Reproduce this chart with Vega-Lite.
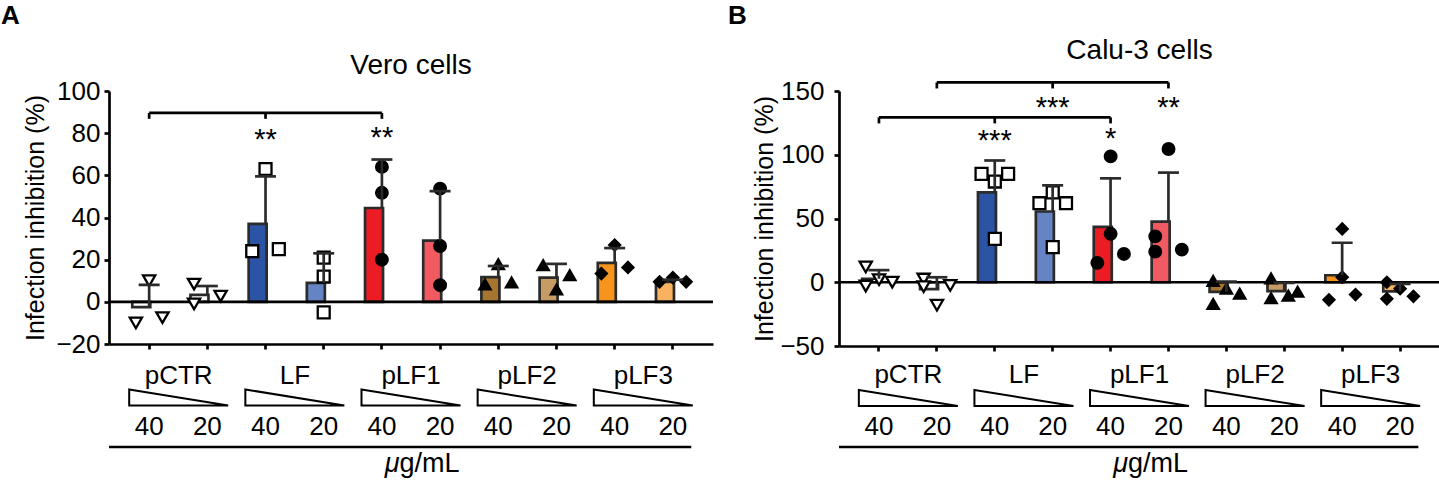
{
  "$schema": "https://vega.github.io/schema/vega-lite/v6.json",
  "background": "white",
  "padding": {"top": 2, "left": 0, "right": 0, "bottom": 0},
  "spacing": 12,
  "config": {
    "view": {"stroke": null},
    "font": "Liberation Sans",
    "title": {"font": "Liberation Sans", "color": "black"},
    "axis": {
      "domainColor": "black", "domainWidth": 2.7, "tickColor": "black", "tickWidth": 2.7, "tickSize": 5,
      "labelColor": "black", "labelFont": "Liberation Sans", "labelFontSize": 26,
      "titleFont": "Liberation Sans", "titleFontSize": 25, "titleFontWeight": "normal", "titleColor": "black", "grid": false
    },
    "text": {"font": "Liberation Sans", "color": "black"}
  },
  "datasets": {
    "barsA": [
      {"cond": "pCTR 40", "mean": -2.5, "upper": 8},
      {"cond": "pCTR 20", "mean": 3.3, "upper": 7.5},
      {"cond": "LF 40", "mean": 37, "upper": 59.5},
      {"cond": "LF 20", "mean": 9, "upper": 23},
      {"cond": "pLF1 40", "mean": 44.5, "upper": 67.5},
      {"cond": "pLF1 20", "mean": 29, "upper": 52.5},
      {"cond": "pLF2 40", "mean": 11.7, "upper": 17},
      {"cond": "pLF2 20", "mean": 11.5, "upper": 18},
      {"cond": "pLF3 40", "mean": 18.5, "upper": 25.5},
      {"cond": "pLF3 20", "mean": 9.5, "upper": 10.5}
    ],
    "ptsA": [
      {"cond": "pCTR 40", "group": "pCTR", "val": -10, "spread": -1},
      {"cond": "pCTR 40", "group": "pCTR", "val": 10, "spread": 0},
      {"cond": "pCTR 40", "group": "pCTR", "val": -7.5, "spread": 1},
      {"cond": "pCTR 20", "group": "pCTR", "val": 8.4, "spread": -1},
      {"cond": "pCTR 20", "group": "pCTR", "val": -1, "spread": -1},
      {"cond": "pCTR 20", "group": "pCTR", "val": 2.7, "spread": 1},
      {"cond": "LF 40", "group": "LF", "val": 63, "spread": 0},
      {"cond": "LF 40", "group": "LF", "val": 24, "spread": -1},
      {"cond": "LF 40", "group": "LF", "val": 25, "spread": 1},
      {"cond": "LF 20", "group": "LF", "val": 21, "spread": 0},
      {"cond": "LF 20", "group": "LF", "val": 12, "spread": 0},
      {"cond": "LF 20", "group": "LF", "val": -5, "spread": 0},
      {"cond": "pLF1 40", "group": "pLF1", "val": 64, "spread": 0},
      {"cond": "pLF1 40", "group": "pLF1", "val": 51.7, "spread": 0},
      {"cond": "pLF1 40", "group": "pLF1", "val": 20, "spread": 0},
      {"cond": "pLF1 20", "group": "pLF1", "val": 53.7, "spread": 0},
      {"cond": "pLF1 20", "group": "pLF1", "val": 26.5, "spread": 0},
      {"cond": "pLF1 20", "group": "pLF1", "val": 7.9, "spread": 0},
      {"cond": "pLF2 40", "group": "pLF2", "val": 17.9, "spread": 0},
      {"cond": "pLF2 40", "group": "pLF2", "val": 8.2, "spread": -1},
      {"cond": "pLF2 40", "group": "pLF2", "val": 9.2, "spread": 1},
      {"cond": "pLF2 20", "group": "pLF2", "val": 17.4, "spread": -1},
      {"cond": "pLF2 20", "group": "pLF2", "val": 12.6, "spread": 1},
      {"cond": "pLF2 20", "group": "pLF2", "val": 5.9, "spread": 0},
      {"cond": "pLF3 40", "group": "pLF3", "val": 26.9, "spread": 0},
      {"cond": "pLF3 40", "group": "pLF3", "val": 13.4, "spread": -1},
      {"cond": "pLF3 40", "group": "pLF3", "val": 16.3, "spread": 1},
      {"cond": "pLF3 20", "group": "pLF3", "val": 9.5, "spread": -1},
      {"cond": "pLF3 20", "group": "pLF3", "val": 11.5, "spread": 0},
      {"cond": "pLF3 20", "group": "pLF3", "val": 9.5, "spread": 1}
    ],
    "barsB": [
      {"cond": "pCTR 40", "mean": 2.75, "upper": 9.5},
      {"cond": "pCTR 20", "mean": -5.4, "upper": 3.9},
      {"cond": "LF 40", "mean": 70.5, "upper": 95.5},
      {"cond": "LF 20", "mean": 55.5, "upper": 76},
      {"cond": "pLF1 40", "mean": 43.5, "upper": 81.5},
      {"cond": "pLF1 20", "mean": 47.5, "upper": 86},
      {"cond": "pLF2 40", "mean": -7.5, "upper": 0.5},
      {"cond": "pLF2 20", "mean": -7, "upper": -0.5},
      {"cond": "pLF3 40", "mean": 5.5, "upper": 31},
      {"cond": "pLF3 20", "mean": -7.2, "upper": -1.3}
    ],
    "ptsB": [
      {"cond": "pCTR 40", "group": "pCTR", "val": 12, "spread": -1},
      {"cond": "pCTR 40", "group": "pCTR", "val": -3, "spread": -1},
      {"cond": "pCTR 40", "group": "pCTR", "val": 2, "spread": 0},
      {"cond": "pCTR 40", "group": "pCTR", "val": 0, "spread": 1},
      {"cond": "pCTR 20", "group": "pCTR", "val": 2.5, "spread": -1},
      {"cond": "pCTR 20", "group": "pCTR", "val": -3.5, "spread": -1},
      {"cond": "pCTR 20", "group": "pCTR", "val": -18, "spread": 0},
      {"cond": "pCTR 20", "group": "pCTR", "val": -2.5, "spread": 1},
      {"cond": "LF 40", "group": "LF", "val": 85, "spread": -1},
      {"cond": "LF 40", "group": "LF", "val": 85, "spread": 1},
      {"cond": "LF 40", "group": "LF", "val": 79, "spread": 0},
      {"cond": "LF 40", "group": "LF", "val": 34, "spread": 0},
      {"cond": "LF 20", "group": "LF", "val": 62, "spread": -1},
      {"cond": "LF 20", "group": "LF", "val": 62, "spread": 1},
      {"cond": "LF 20", "group": "LF", "val": 70.5, "spread": 0},
      {"cond": "LF 20", "group": "LF", "val": 27.5, "spread": 0},
      {"cond": "pLF1 40", "group": "pLF1", "val": 98.7, "spread": 0},
      {"cond": "pLF1 40", "group": "pLF1", "val": 38, "spread": 0},
      {"cond": "pLF1 40", "group": "pLF1", "val": 15.2, "spread": -1},
      {"cond": "pLF1 40", "group": "pLF1", "val": 22.2, "spread": 1},
      {"cond": "pLF1 20", "group": "pLF1", "val": 104.5, "spread": 0},
      {"cond": "pLF1 20", "group": "pLF1", "val": 36, "spread": -1},
      {"cond": "pLF1 20", "group": "pLF1", "val": 24, "spread": -1},
      {"cond": "pLF1 20", "group": "pLF1", "val": 25.6, "spread": 1},
      {"cond": "pLF2 40", "group": "pLF2", "val": 1, "spread": -1},
      {"cond": "pLF2 40", "group": "pLF2", "val": -17, "spread": -1},
      {"cond": "pLF2 40", "group": "pLF2", "val": -5, "spread": 0},
      {"cond": "pLF2 40", "group": "pLF2", "val": -9, "spread": 1},
      {"cond": "pLF2 20", "group": "pLF2", "val": 3, "spread": -1},
      {"cond": "pLF2 20", "group": "pLF2", "val": -12.5, "spread": -1},
      {"cond": "pLF2 20", "group": "pLF2", "val": -10.5, "spread": 0.3},
      {"cond": "pLF2 20", "group": "pLF2", "val": -7.5, "spread": 1},
      {"cond": "pLF3 40", "group": "pLF3", "val": 41.8, "spread": 0},
      {"cond": "pLF3 40", "group": "pLF3", "val": 4, "spread": 0},
      {"cond": "pLF3 40", "group": "pLF3", "val": -13.8, "spread": -1},
      {"cond": "pLF3 40", "group": "pLF3", "val": -9.7, "spread": 1},
      {"cond": "pLF3 20", "group": "pLF3", "val": 0, "spread": -1},
      {"cond": "pLF3 20", "group": "pLF3", "val": -5, "spread": 0},
      {"cond": "pLF3 20", "group": "pLF3", "val": -13, "spread": -1},
      {"cond": "pLF3 20", "group": "pLF3", "val": -11, "spread": 1}
    ],
    "sigA": [
      {"cond": "LF 40", "label": "**", "level": 80},
      {"cond": "pLF1 40", "label": "**", "level": 81}
    ],
    "sigB": [
      {"cond": "LF 40", "label": "***", "level": 116},
      {"cond": "pLF1 40", "label": "*", "level": 118},
      {"cond": "LF 20", "label": "***", "level": 141.8},
      {"cond": "pLF1 20", "label": "**", "level": 141.8}
    ],
    "brkA": [
      {"from": "pCTR 40", "to": "pLF1 40", "level": 89.6}
    ],
    "brkTicksA": [
      {"cond": "pCTR 40", "level": 89.6, "foot": 86.8},
      {"cond": "LF 40", "level": 89.6, "foot": 86.8},
      {"cond": "pLF1 40", "level": 89.6, "foot": 86.8}
    ],
    "brkB": [
      {"from": "pCTR 40", "to": "pLF1 40", "level": 129.3},
      {"from": "pCTR 20", "to": "pLF1 20", "level": 156.7}
    ],
    "brkTicksB": [
      {"cond": "pCTR 40", "level": 129.3, "foot": 124.6},
      {"cond": "LF 40", "level": 129.3, "foot": 124.6},
      {"cond": "pLF1 40", "level": 129.3, "foot": 124.6},
      {"cond": "pCTR 20", "level": 156.7, "foot": 152},
      {"cond": "LF 20", "level": 156.7, "foot": 152},
      {"cond": "pLF1 20", "level": 156.7, "foot": 152}
    ],
    "doses": [
      {"cond": "pCTR 40", "dose": "40"}, {"cond": "pCTR 20", "dose": "20"},
      {"cond": "LF 40", "dose": "40"}, {"cond": "LF 20", "dose": "20"},
      {"cond": "pLF1 40", "dose": "40"}, {"cond": "pLF1 20", "dose": "20"},
      {"cond": "pLF2 40", "dose": "40"}, {"cond": "pLF2 20", "dose": "20"},
      {"cond": "pLF3 40", "dose": "40"}, {"cond": "pLF3 20", "dose": "20"}
    ],
    "groups": [
      {"group": "pCTR"}, {"group": "LF"}, {"group": "pLF1"}, {"group": "pLF2"}, {"group": "pLF3"}
    ],
    "one": [{"k": 1}]
  },
  "hconcat": [
    {
      "title": {"text": "A", "anchor": "start", "fontSize": 26, "fontWeight": "bold", "dx": -23, "offset": 23.5},
      "spacing": 0,
      "vconcat": [
        {
          "width": 604, "height": 253,
          "title": {"text": "Vero cells", "fontSize": 28, "fontWeight": "normal", "anchor": "middle", "frame": "group", "offset": -2},
          "resolve": {"scale": {"color": "independent"}},
          "layer": [
            {
              "data": {"name": "barsA"},
              "mark": {"type": "bar", "stroke": "#2b2b2b", "strokeWidth": 2.7},
              "encoding": {
                "x": {"field": "cond", "type": "nominal", "title": null, "scale": {"type": "band", "domain": ["pCTR 40","pCTR 20","LF 40","LF 20","pLF1 40","pLF1 20","pLF2 40","pLF2 20","pLF3 40","pLF3 20"], "paddingInner": 0.42, "paddingOuter": 0.4}, "axis": {"labels": false, "title": null, "ticks": true, "domain": true}},
                "y": {"field": "mean", "type": "quantitative", "title": "Infection inhibition (%)", "scale": {"domain": [-20, 100], "nice": false}, "axis": {"values": [-20, 0, 20, 40, 60, 80, 100], "labelPadding": 4, "titlePadding": 7}},
                "fill": {"field": "cond", "type": "nominal", "legend": null, "scale": {"domain": ["pCTR 40","pCTR 20","LF 40","LF 20","pLF1 40","pLF1 20","pLF2 40","pLF2 20","pLF3 40","pLF3 20"], "range": ["#ffffff","#ffffff","#2c54a4","#6484c4","#ec1c24","#f15a60","#a6752f","#c69c64","#f7941e","#f9b25f"]}}
              }
            },
            {
              "data": {"name": "one"},
              "mark": {"type": "rule", "color": "black", "strokeWidth": 2.7},
              "encoding": {"y": {"datum": 0, "type": "quantitative", "title": "Infection inhibition (%)"}}
            },
            {
              "data": {"name": "ptsA"},
              "mark": {"type": "point", "filled": true, "stroke": "black", "strokeWidth": 2.3, "opacity": 1},
              "encoding": {
                "x": {"field": "cond", "type": "nominal", "title": null},
                "xOffset": {"field": "spread", "type": "quantitative", "scale": {"domain": [-1.27, 1.27], "nice": false, "zero": false}},
                "y": {"field": "val", "type": "quantitative", "title": "Infection inhibition (%)"},
                "shape": {"field": "group", "type": "nominal", "legend": null, "scale": {"domain": ["pCTR","LF","pLF1","pLF2","pLF3"], "range": ["triangle-down","square","circle","triangle-up","diamond"]}},
                "color": {"field": "group", "type": "nominal", "legend": null, "scale": {"domain": ["pCTR","LF","pLF1","pLF2","pLF3"], "range": ["#ffffff","#ffffff","#000000","#000000","#000000"]}},
                "size": {"field": "group", "type": "nominal", "legend": null, "scale": {"domain": ["pCTR","LF","pLF1","pLF2","pLF3"], "range": [150, 120, 100, 120, 95]}}
              }
            },
            {
              "data": {"name": "barsA"},
              "mark": {"type": "rule", "color": "#2b2b2b", "strokeWidth": 2.7},
              "encoding": {
                "x": {"field": "cond", "type": "nominal", "title": null},
                "y": {"field": "mean", "type": "quantitative", "title": "Infection inhibition (%)"},
                "y2": {"field": "upper"}
              }
            },
            {
              "data": {"name": "barsA"},
              "mark": {"type": "tick", "color": "#2b2b2b", "size": 21, "thickness": 2.7, "opacity": 1},
              "encoding": {
                "x": {"field": "cond", "type": "nominal", "title": null},
                "y": {"field": "upper", "type": "quantitative", "title": "Infection inhibition (%)"}
              }
            },
            {
              "data": {"name": "brkA"},
              "mark": {"type": "rule", "color": "black", "strokeWidth": 2.7},
              "encoding": {
                "x": {"field": "from", "type": "nominal", "title": null},
                "x2": {"field": "to"},
                "y": {"field": "level", "type": "quantitative", "title": "Infection inhibition (%)"}
              }
            },
            {
              "data": {"name": "brkTicksA"},
              "mark": {"type": "rule", "color": "black", "strokeWidth": 2.7},
              "encoding": {
                "x": {"field": "cond", "type": "nominal", "title": null},
                "y": {"field": "level", "type": "quantitative", "title": "Infection inhibition (%)"},
                "y2": {"field": "foot"}
              }
            },
            {
              "data": {"name": "sigA"},
              "mark": {"type": "text", "fontSize": 29, "baseline": "alphabetic", "dy": 16},
              "encoding": {
                "x": {"field": "cond", "type": "nominal", "title": null},
                "y": {"field": "level", "type": "quantitative", "title": "Infection inhibition (%)"},
                "text": {"field": "label"}
              }
            }
          ]
        },
        {
          "width": 604, "height": 122,
          "resolve": {"scale": {"x": "independent"}},
          "layer": [
            {
              "data": {"name": "doses"},
              "mark": {"type": "text", "fontSize": 26, "baseline": "alphabetic"},
              "encoding": {
                "x": {"field": "cond", "type": "nominal", "axis": null, "scale": {"type": "band", "domain": ["pCTR 40","pCTR 20","LF 40","LF 20","pLF1 40","pLF1 20","pLF2 40","pLF2 20","pLF3 40","pLF3 20"], "paddingInner": 0.42, "paddingOuter": 0.4}},
                "y": {"datum": 78, "type": "quantitative", "axis": null, "scale": {"domain": [0, 122], "reverse": true, "nice": false, "zero": false}},
                "text": {"field": "dose"}
              }
            },
            {
              "data": {"name": "groups"},
              "mark": {"type": "text", "fontSize": 26, "baseline": "alphabetic"},
              "encoding": {
                "x": {"field": "group", "type": "nominal", "axis": null, "scale": {"type": "band", "domain": ["pCTR","LF","pLF1","pLF2","pLF3"], "paddingInner": 0, "paddingOuter": 0.1}},
                "y": {"datum": 26.5, "type": "quantitative", "axis": null},
                "text": {"field": "group"}
              }
            },
            {
              "data": {"name": "groups"},
              "mark": {"type": "point", "shape": "M -1 -0.162 L 1 0.162 L -1 0.162 Z", "size": 9801, "filled": true, "fill": "white", "stroke": "black", "strokeWidth": 2, "opacity": 1},
              "encoding": {
                "x": {"field": "group", "type": "nominal", "axis": null, "scale": {"type": "band", "domain": ["pCTR","LF","pLF1","pLF2","pLF3"], "paddingInner": 0, "paddingOuter": 0.1}},
                "y": {"datum": 40.5, "type": "quantitative", "axis": null}
              }
            },
            {
              "data": {"name": "one"},
              "mark": {"type": "rule", "color": "black", "strokeWidth": 2.7},
              "encoding": {
                "x": {"datum": 0, "type": "quantitative", "axis": null, "scale": {"domain": [0, 1], "nice": false, "zero": false}},
                "x2": {"datum": 0.964},
                "y": {"datum": 90, "type": "quantitative", "axis": null}
              }
            },
            {
              "data": {"name": "one"},
              "mark": {"type": "text", "text": "μ", "fontSize": 27, "fontStyle": "italic", "align": "right", "baseline": "alphabetic"},
              "encoding": {
                "x": {"datum": 0.481, "type": "quantitative", "axis": null, "scale": {"domain": [0, 1], "nice": false, "zero": false}},
                "y": {"datum": 114.5, "type": "quantitative", "axis": null}
              }
            },
            {
              "data": {"name": "one"},
              "mark": {"type": "text", "text": "g/mL", "fontSize": 27, "align": "left", "baseline": "alphabetic"},
              "encoding": {
                "x": {"datum": 0.481, "type": "quantitative", "axis": null, "scale": {"domain": [0, 1], "nice": false, "zero": false}},
                "y": {"datum": 114.5, "type": "quantitative", "axis": null}
              }
            }
          ]
        }
      ]
    },
    {
      "title": {"text": "B", "anchor": "start", "fontSize": 26, "fontWeight": "bold", "dx": -25, "offset": 8},
      "spacing": 0,
      "vconcat": [
        {
          "width": 601, "height": 255,
          "title": {"text": "Calu-3 cells", "fontSize": 28, "fontWeight": "normal", "anchor": "middle", "frame": "group", "offset": 13.5},
          "resolve": {"scale": {"color": "independent"}},
          "layer": [
            {
              "data": {"name": "barsB"},
              "mark": {"type": "bar", "stroke": "#2b2b2b", "strokeWidth": 2.7},
              "encoding": {
                "x": {"field": "cond", "type": "nominal", "title": null, "scale": {"type": "band", "domain": ["pCTR 40","pCTR 20","LF 40","LF 20","pLF1 40","pLF1 20","pLF2 40","pLF2 20","pLF3 40","pLF3 20"], "paddingInner": 0.42, "paddingOuter": 0.4}, "axis": {"labels": false, "title": null, "ticks": true, "domain": true}},
                "y": {"field": "mean", "type": "quantitative", "title": "Infection inhibition (%)", "scale": {"domain": [-50, 150], "nice": false}, "axis": {"values": [-50, 0, 50, 100, 150], "labelPadding": 10, "titlePadding": 2}},
                "fill": {"field": "cond", "type": "nominal", "legend": null, "scale": {"domain": ["pCTR 40","pCTR 20","LF 40","LF 20","pLF1 40","pLF1 20","pLF2 40","pLF2 20","pLF3 40","pLF3 20"], "range": ["#ffffff","#ffffff","#2c54a4","#6484c4","#ec1c24","#f15a60","#a6752f","#c69c64","#f7941e","#f9b25f"]}}
              }
            },
            {
              "data": {"name": "one"},
              "mark": {"type": "rule", "color": "black", "strokeWidth": 2.7},
              "encoding": {"y": {"datum": 0, "type": "quantitative", "title": "Infection inhibition (%)"}}
            },
            {
              "data": {"name": "ptsB"},
              "mark": {"type": "point", "filled": true, "stroke": "black", "strokeWidth": 2.3, "opacity": 1},
              "encoding": {
                "x": {"field": "cond", "type": "nominal", "title": null},
                "xOffset": {"field": "spread", "type": "quantitative", "scale": {"domain": [-1.27, 1.27], "nice": false, "zero": false}},
                "y": {"field": "val", "type": "quantitative", "title": "Infection inhibition (%)"},
                "shape": {"field": "group", "type": "nominal", "legend": null, "scale": {"domain": ["pCTR","LF","pLF1","pLF2","pLF3"], "range": ["triangle-down","square","circle","triangle-up","diamond"]}},
                "color": {"field": "group", "type": "nominal", "legend": null, "scale": {"domain": ["pCTR","LF","pLF1","pLF2","pLF3"], "range": ["#ffffff","#ffffff","#000000","#000000","#000000"]}},
                "size": {"field": "group", "type": "nominal", "legend": null, "scale": {"domain": ["pCTR","LF","pLF1","pLF2","pLF3"], "range": [150, 120, 100, 120, 95]}}
              }
            },
            {
              "data": {"name": "barsB"},
              "mark": {"type": "rule", "color": "#2b2b2b", "strokeWidth": 2.7},
              "encoding": {
                "x": {"field": "cond", "type": "nominal", "title": null},
                "y": {"field": "mean", "type": "quantitative", "title": "Infection inhibition (%)"},
                "y2": {"field": "upper"}
              }
            },
            {
              "data": {"name": "barsB"},
              "mark": {"type": "tick", "color": "#2b2b2b", "size": 21, "thickness": 2.7, "opacity": 1},
              "encoding": {
                "x": {"field": "cond", "type": "nominal", "title": null},
                "y": {"field": "upper", "type": "quantitative", "title": "Infection inhibition (%)"}
              }
            },
            {
              "data": {"name": "brkB"},
              "mark": {"type": "rule", "color": "black", "strokeWidth": 2.7},
              "encoding": {
                "x": {"field": "from", "type": "nominal", "title": null},
                "x2": {"field": "to"},
                "y": {"field": "level", "type": "quantitative", "title": "Infection inhibition (%)"}
              }
            },
            {
              "data": {"name": "brkTicksB"},
              "mark": {"type": "rule", "color": "black", "strokeWidth": 2.7},
              "encoding": {
                "x": {"field": "cond", "type": "nominal", "title": null},
                "y": {"field": "level", "type": "quantitative", "title": "Infection inhibition (%)"},
                "y2": {"field": "foot"}
              }
            },
            {
              "data": {"name": "sigB"},
              "mark": {"type": "text", "fontSize": 29, "baseline": "alphabetic", "dy": 16},
              "encoding": {
                "x": {"field": "cond", "type": "nominal", "title": null},
                "y": {"field": "level", "type": "quantitative", "title": "Infection inhibition (%)"},
                "text": {"field": "label"}
              }
            }
          ]
        },
        {
          "width": 601, "height": 122,
          "resolve": {"scale": {"x": "independent"}},
          "layer": [
            {
              "data": {"name": "doses"},
              "mark": {"type": "text", "fontSize": 26, "baseline": "alphabetic"},
              "encoding": {
                "x": {"field": "cond", "type": "nominal", "axis": null, "scale": {"type": "band", "domain": ["pCTR 40","pCTR 20","LF 40","LF 20","pLF1 40","pLF1 20","pLF2 40","pLF2 20","pLF3 40","pLF3 20"], "paddingInner": 0.42, "paddingOuter": 0.4}},
                "y": {"datum": 76, "type": "quantitative", "axis": null, "scale": {"domain": [0, 122], "reverse": true, "nice": false, "zero": false}},
                "text": {"field": "dose"}
              }
            },
            {
              "data": {"name": "groups"},
              "mark": {"type": "text", "fontSize": 26, "baseline": "alphabetic"},
              "encoding": {
                "x": {"field": "group", "type": "nominal", "axis": null, "scale": {"type": "band", "domain": ["pCTR","LF","pLF1","pLF2","pLF3"], "paddingInner": 0, "paddingOuter": 0.1}},
                "y": {"datum": 23.7, "type": "quantitative", "axis": null},
                "text": {"field": "group"}
              }
            },
            {
              "data": {"name": "groups"},
              "mark": {"type": "point", "shape": "M -1 -0.162 L 1 0.162 L -1 0.162 Z", "size": 9801, "filled": true, "fill": "white", "stroke": "black", "strokeWidth": 2, "opacity": 1},
              "encoding": {
                "x": {"field": "group", "type": "nominal", "axis": null, "scale": {"type": "band", "domain": ["pCTR","LF","pLF1","pLF2","pLF3"], "paddingInner": 0, "paddingOuter": 0.1}},
                "y": {"datum": 39, "type": "quantitative", "axis": null}
              }
            },
            {
              "data": {"name": "one"},
              "mark": {"type": "rule", "color": "black", "strokeWidth": 2.7},
              "encoding": {
                "x": {"datum": 0, "type": "quantitative", "axis": null, "scale": {"domain": [0, 1], "nice": false, "zero": false}},
                "x2": {"datum": 0.964},
                "y": {"datum": 88, "type": "quantitative", "axis": null}
              }
            },
            {
              "data": {"name": "one"},
              "mark": {"type": "text", "text": "μ", "fontSize": 27, "fontStyle": "italic", "align": "right", "baseline": "alphabetic"},
              "encoding": {
                "x": {"datum": 0.481, "type": "quantitative", "axis": null, "scale": {"domain": [0, 1], "nice": false, "zero": false}},
                "y": {"datum": 112.7, "type": "quantitative", "axis": null}
              }
            },
            {
              "data": {"name": "one"},
              "mark": {"type": "text", "text": "g/mL", "fontSize": 27, "align": "left", "baseline": "alphabetic"},
              "encoding": {
                "x": {"datum": 0.481, "type": "quantitative", "axis": null, "scale": {"domain": [0, 1], "nice": false, "zero": false}},
                "y": {"datum": 112.7, "type": "quantitative", "axis": null}
              }
            }
          ]
        }
      ]
    }
  ]
}
